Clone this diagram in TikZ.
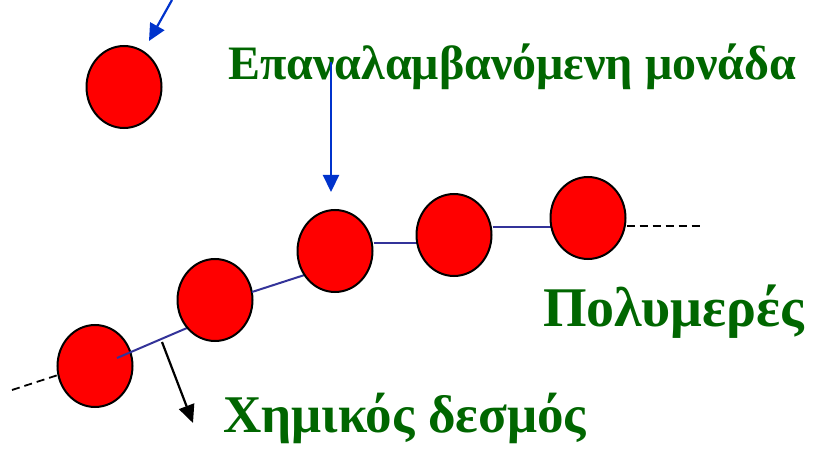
\documentclass[tikz,border=0pt]{standalone}
\usepackage{fontspec}
\setmainfont{Liberation Serif}
\usetikzlibrary{shapes.geometric,arrows.meta}
\definecolor{lblgreen}{HTML}{006600}
\definecolor{arrblue}{HTML}{0033CC}
\definecolor{bondblue}{HTML}{333399}
\tikzset{
  bead/.style={ellipse,draw=black,line width=2pt,fill=red,minimum width=75pt,minimum height=82pt,inner sep=0pt},
  bond/.style={draw=bondblue,line width=2pt},
  endbond/.style={draw=black,line width=1.8pt,dash pattern=on 8pt off 5pt},
  bluearrow/.style={draw=arrblue,line width=2.2pt,-{Triangle[width=16pt,length=17pt]}},
  blackarrow/.style={draw=black,line width=2.2pt,-{Triangle[width=16pt,length=18pt]}},
  lbl/.style={text=lblgreen,font=\bfseries,inner sep=0pt,anchor=base west}
}
\begin{document}
\begin{tikzpicture}[x=1pt,y=-1pt]
\useasboundingbox (0,0) rectangle (819,449);
% coordinates
\coordinate (dl) at (12,390);
\coordinate (b1s) at (117,358);
\coordinate (b1e) at (215,316);
\coordinate (b2s) at (252,292);
\coordinate (b2e) at (320,270);
\coordinate (dr) at (700,226);
\coordinate (ta) at (172,0);
\coordinate (tb) at (149,41);
\coordinate (ma) at (331,62);
\coordinate (mb) at (331,192);
\coordinate (ka) at (162,342);
\coordinate (kb) at (193,423);
% texts
\node[lbl,font=\bfseries\fontsize{48}{54}\selectfont] (t1) at (228,80) {Επαναλαμβανόμενη μονάδα};
\node[lbl,font=\bfseries\fontsize{56}{62}\selectfont] (t2) at (543,326) {Πολυμερές};
\node[lbl,font=\bfseries\fontsize{53}{60}\selectfont] (t3) at (223,432) {Χημικός δεσμός};
% free monomer
\node[bead] (m0) at (124,87) {};
\draw[bluearrow] (ta) -- (tb);
% chain
\draw[endbond] (dl) -- (58,375);
\node[bead] (c1) at (95,366) {};
\draw[bond] (b1s) -- (b1e);
\node[bead] (c2) at (215,300) {};
\draw[bond] (b2s) -- (b2e);
\node[bead] (c3) at (335,251) {};
\draw[bond] (c3.east |- 0,243) -- (454,243);
\node[bead] (c4) at (454,235) {};
\draw[bond] (c4.east |- 0,227) -- (589,227);
\node[bead] (c5) at (588,218) {};
\draw[endbond] (c5.east |- 0,226) -- (dr);
% arrows
\draw[bluearrow] (ma) -- (mb);
\draw[blackarrow] (ka) -- (kb);
\end{tikzpicture}
\end{document}
